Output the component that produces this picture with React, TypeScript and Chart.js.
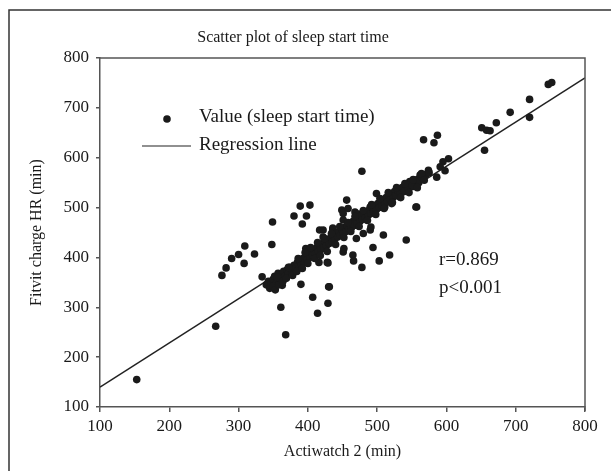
import React, { useEffect, useRef } from "react";
import { Chart, registerables } from "chart.js";

Chart.register(...registerables);

const titleText = "Scatter plot of sleep start time";
const xAxisTitle = "Actiwatch 2 (min)";
const yAxisTitle = "Fitvit charge HR (min)";
const legendPoint = "Value (sleep start time)";
const legendLine = "Regression line";
const statR = "r=0.869";
const statP = "p<0.001";

const xTicks = [100, 200, 300, 400, 500, 600, 700, 800];
const yTicks = [100, 200, 300, 400, 500, 600, 700, 800];

// Actiwatch 2 (x) values
const actiwatch = [
  153, 267, 276, 282, 290, 300, 309, 308, 323, 334, 348, 349, 346, 361, 368, 390, 392, 407, 414, 429,
  430, 428, 416, 436, 417, 389, 403, 380, 398, 397, 478, 499, 456, 556, 509, 542, 494, 518, 503, 465,
  466, 478, 429, 431, 449, 458, 468, 473, 422, 436, 422, 567, 587, 582, 651, 658, 663, 672, 692, 720,
  720, 747, 752, 655, 603, 595, 591, 598, 586, 574, 562, 559, 547, 550, 542, 530, 533, 518, 521, 557,
  511, 504, 490, 494, 480, 475, 470, 466, 461, 451, 451, 490, 491, 451, 452, 470, 480, 441, 437, 360,
  363,
  340, 343, 347, 350, 352, 355, 357, 360, 362, 365, 367, 370, 372, 374, 377, 380, 382, 385, 387, 389,
  391, 393, 395, 397, 399, 401, 403, 405, 407, 409, 411, 413, 415, 417, 419, 421, 423, 425, 427, 429,
  431, 433, 435, 437, 439, 441, 443, 445, 447, 449, 451, 453, 455, 457, 459, 461, 463, 465, 467, 469,
  471, 473, 475, 477, 479, 481, 483, 485, 487, 489, 491, 493, 495, 497, 499, 501, 503, 505, 507, 509,
  511, 513, 515, 517, 519, 521, 523, 525, 527, 530, 533, 536, 539, 542, 545, 548, 551, 555, 560, 565,
  570, 575,
  345, 350, 353, 358, 356, 364, 369, 372, 378, 384, 386, 392, 396, 400, 404, 410, 414, 418, 424, 428,
  434, 440, 446, 452, 458, 462, 468, 474, 480, 486, 492, 498, 504, 510, 516, 522, 528, 534, 540, 546,
  552, 558, 564, 568,
];

// Fitbit Charge HR (y) values
const fitbit = [
  155, 262, 364, 379, 398, 406, 423, 388, 407, 361, 426, 471, 341, 300, 245, 346, 467, 320, 288, 308,
  341, 390, 390, 459, 455, 503, 505, 483, 483, 418, 573, 528, 515, 501, 445, 435, 420, 405, 393, 405,
  393, 380, 389, 341, 495, 498, 491, 487, 455, 455, 441, 636, 645, 630, 660, 655, 654, 670, 691, 717,
  681, 747, 751, 615, 598, 592, 582, 574, 561, 575, 565, 556, 552, 542, 538, 535, 521, 521, 508, 501,
  501, 508, 501, 495, 488, 481, 475, 469, 465, 488, 475, 455, 461, 411, 418, 438, 448, 445, 435, 348,
  344,
  345, 352, 348, 356, 362, 350, 368, 358, 365, 372, 362, 375, 368, 380, 373, 384, 378, 390, 382, 393,
  386, 398, 390, 402, 395, 408, 400, 412, 404, 416, 408, 420, 412, 424, 416, 428, 420, 432, 424, 436,
  428, 440, 432, 444, 437, 448, 441, 452, 445, 456, 449, 460, 452, 464, 457, 468, 460, 472, 464, 476,
  468, 480, 472, 484, 476, 488, 480, 492, 484, 496, 488, 500, 492, 504, 496, 508, 500, 512, 504, 516,
  508, 520, 512, 524, 516, 528, 520, 532, 524, 534, 528, 540, 532, 545, 538, 550, 544, 555, 550, 560,
  566, 570,
  338, 342, 335, 345, 360, 352, 358, 380, 364, 372, 398, 378, 410, 388, 420, 398, 430, 404, 438, 412,
  448, 426, 462, 440, 470, 452, 482, 462, 494, 474, 506, 486, 518, 498, 530, 510, 540, 520, 548, 530,
  556, 540, 568, 555,
];

const regressionX = [100, 800];
const regressionY = [140, 760];

const SERIF = "'Liberation Serif', 'DejaVu Serif', serif";

const textPlugin = {
  id: "textPlugin",
  afterDraw(chart: any) {
    const ctx = chart.ctx;
    const a = chart.chartArea;
    ctx.save();
    // outer frame
    ctx.strokeStyle = "#333";
    ctx.lineWidth = 1.5;
    ctx.beginPath();
    ctx.moveTo(9, 471);
    ctx.lineTo(9, 10);
    ctx.lineTo(611, 10);
    ctx.stroke();
    // plot box top/right
    ctx.strokeStyle = "#555";
    ctx.lineWidth = 1.5;
    ctx.beginPath();
    ctx.moveTo(a.left, a.top);
    ctx.lineTo(a.right, a.top);
    ctx.lineTo(a.right, a.bottom + 4);
    ctx.stroke();

    ctx.fillStyle = "#1a1a1a";
    ctx.font = `16px ${SERIF}`;
    ctx.textAlign = "center";
    ctx.textBaseline = "middle";
    ctx.fillText(titleText, 293, 38);

    ctx.font = `16px ${SERIF}`;
    ctx.fillText(xAxisTitle, (a.left + a.right) / 2, 452);
    ctx.save();
    ctx.translate(37, (a.top + a.bottom) / 2);
    ctx.rotate(-Math.PI / 2);
    ctx.fillText(yAxisTitle, 0, 0);
    ctx.restore();

    // legend
    ctx.font = `19px ${SERIF}`;
    ctx.textAlign = "left";
    ctx.beginPath();
    ctx.arc(167, 119, 3.8, 0, Math.PI * 2);
    ctx.fill();
    ctx.fillText(legendPoint, 199, 117);
    ctx.strokeStyle = "#222";
    ctx.lineWidth = 1.2;
    ctx.beginPath();
    ctx.moveTo(142, 146);
    ctx.lineTo(191, 146);
    ctx.stroke();
    ctx.fillText(legendLine, 199, 145);

    ctx.fillText(statR, 439, 260);
    ctx.fillText(statP, 439, 288);
    ctx.restore();
  },
};

export default function App() {
  const ref = useRef<HTMLCanvasElement>(null);
  useEffect(() => {
    if (!ref.current) return;
    const points = actiwatch.map((x, i) => ({ x, y: fitbit[i] }));
    const line = regressionX.map((x, i) => ({ x, y: regressionY[i] }));
    const tickFont = { family: SERIF, size: 17 };
    const chart = new Chart(ref.current, {
      type: "scatter",
      data: {
        datasets: [
          {
            label: legendPoint,
            data: points,
            pointRadius: 3.8,
            pointBackgroundColor: "#1a1a1a",
            pointBorderWidth: 0,
            borderColor: "#1a1a1a",
          },
          {
            label: legendLine,
            type: "line",
            data: line,
            borderColor: "#222",
            borderWidth: 1.5,
            pointRadius: 0,
            fill: false,
          },
        ],
      },
      options: {
        animation: false,
        responsive: false,
        layout: { padding: { top: 58, right: 26, left: 0, bottom: 0 } },
        plugins: { legend: { display: false }, tooltip: { enabled: false }, title: { display: false } },
        scales: {
          x: {
            type: "linear",
            min: 100,
            max: 800,
            afterFit: (s: any) => {
              s.height = 64;
            },
            afterBuildTicks: (s: any) => {
              s.ticks = xTicks.map((v) => ({ value: v }));
            },
            border: { display: true, color: "#555", width: 1.5 },
            grid: { drawOnChartArea: false, drawTicks: true, tickLength: 5, color: "#555", lineWidth: 1.5 },
            ticks: { font: tickFont, color: "#1a1a1a", padding: 4, maxRotation: 0 },
          },
          y: {
            type: "linear",
            min: 100,
            max: 800,
            afterFit: (s: any) => {
              s.width = 100;
            },
            afterBuildTicks: (s: any) => {
              s.ticks = yTicks.map((v) => ({ value: v }));
            },
            border: { display: true, color: "#555", width: 1.5 },
            grid: { drawOnChartArea: false, drawTicks: true, tickLength: 4, color: "#555", lineWidth: 1.5 },
            ticks: { font: tickFont, color: "#1a1a1a", padding: 7 },
          },
        },
      },
      plugins: [textPlugin],
    });
    return () => chart.destroy();
  }, []);
  return (
    <div style={{ position: "fixed", left: 0, top: 0, width: 611, height: 471, background: "#fff" }}>
      <canvas ref={ref} width={611} height={471} style={{ width: 611, height: 471 }} />
    </div>
  );
}
